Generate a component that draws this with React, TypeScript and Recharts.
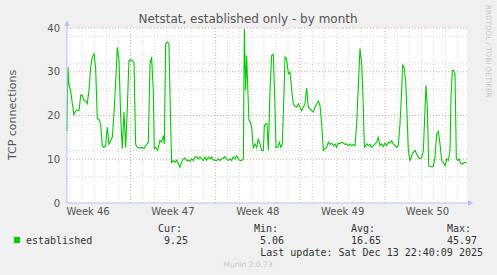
import { LineChart, Line, XAxis, YAxis, CartesianGrid } from "recharts";

// time in days since Mon 10 Nov 2025 (start of week 46)
const times = [
  1.76, 1.84, 1.92, 2.06, 2.2, 2.33, 2.47, 2.61, 2.75, 2.89, 3.02, 3.16, 3.3, 3.43, 3.57, 3.71, 3.85, 3.99,
  4.12, 4.26, 4.4, 4.54, 4.67, 4.81, 4.95, 5.08, 5.22, 5.36, 5.5, 5.64, 5.77, 5.91, 6.05, 6.19, 6.32, 6.46,
  6.6, 6.74, 6.87, 7.01, 7.15, 7.29, 7.42, 7.56, 7.7, 7.84, 7.97, 8.11, 8.25, 8.47, 8.61, 8.74, 8.88, 8.96,
  9.07, 9.24, 9.43, 9.57, 9.71, 9.79, 9.9, 10.04, 10.17, 10.28, 10.39, 10.53, 10.67, 10.81, 10.94, 11.08,
  11.22, 11.36, 11.49, 11.63, 11.77, 11.91, 12.05, 12.18, 12.32, 12.46, 12.59, 12.73, 12.87, 13.01, 13.14,
  13.28, 13.42, 13.56, 13.69, 13.83, 13.97, 14.11, 14.24, 14.38, 14.52, 14.66, 14.79, 14.93, 15.07, 15.21,
  15.34, 15.48, 15.62, 15.76, 15.89, 16.03, 16.17, 16.31, 16.39, 16.5, 16.58, 16.66, 16.77, 16.88, 16.99,
  17.13, 17.27, 17.41, 17.54, 17.68, 17.82, 17.96, 18.04, 18.15, 18.26, 18.37, 18.51, 18.64, 18.78, 18.92,
  19.0, 19.14, 19.28, 19.41, 19.52, 19.64, 19.75, 19.88, 20.02, 20.16, 20.3, 20.43, 20.57, 20.71, 20.85,
  20.98, 21.12, 21.26, 21.39, 21.53, 21.67, 21.81, 21.94, 22.08, 22.22, 22.36, 22.49, 22.63, 22.77, 22.91,
  23.04, 23.18, 23.32, 23.46, 23.59, 23.73, 23.87, 24.01, 24.14, 24.28, 24.42, 24.56, 24.69, 24.83, 24.97,
  25.11, 25.24, 25.38, 25.52, 25.66, 25.79, 25.93, 26.07, 26.21, 26.29, 26.48, 26.62, 26.76, 26.89, 27.03,
  27.17, 27.31, 27.44, 27.58, 27.72, 27.86, 27.99, 28.13, 28.27, 28.41, 28.54, 28.68, 28.82, 28.96, 29.09,
  29.23, 29.37, 29.45, 29.56, 29.7, 29.81, 29.92, 30.06, 30.2, 30.33, 30.47, 30.61, 30.75, 30.88, 31.02,
  31.16, 31.3, 31.38, 31.49, 31.6, 31.71, 31.85, 31.98, 32.12, 32.26, 32.4, 32.53, 32.67, 32.81, 32.95,
  33.08, 33.22, 33.36, 33.44, 33.55, 33.66, 33.77, 33.88, 34.0, 34.11, 34.22, 34.33, 34.47, 34.61, 34.74,
];

const established = [
  16.5, 31, 27, 25.7, 22.7, 20.2, 21, 21.3, 21.1, 24.6, 24.6, 23.4, 23.3, 22.7, 25.7, 31, 33.4, 34.1,
  31, 19.2, 19.2, 18, 13.1, 12.7, 13.1, 17.3, 13.5, 14.3, 15, 20.8, 27.3, 35.6, 32.6, 19.6, 12.4, 20.8,
  12.7, 21.9, 32.6, 32.7, 32.6, 32.2, 13.5, 12.7, 12.6, 12.6, 12.7, 12.4, 13.1, 13.9, 31.8, 33.4, 25.7, 12.4,
  12.7, 12, 14.3, 13.9, 15.4, 13.5, 36.4, 36.8, 36.4, 21.9, 9.3, 9.7, 9.3, 9.8, 9.1, 8.2,
  9.3, 10.1, 10.3, 9.7, 9.8, 9.5, 10.1, 9.7, 10.5, 10.6, 10.1, 10.5, 10.1, 9.7, 10.5,
  9.8, 10.5, 10.1, 10.5, 9.8, 9.8, 9.7, 10.1, 9.7, 10.1, 10.3, 10.6, 10.1, 9.7, 10.1,
  9.7, 10.5, 10.1, 10.8, 10.1, 9.7, 9.7, 10.1, 39.8, 25.7, 33.7, 27.3, 18.9, 18.5, 17.3,
  12.7, 13.5, 12.7, 14.7, 13.5, 12, 12, 17.7, 18.1, 18.1, 12, 25.7, 33.7, 34, 21.9,
  12.7, 12.8, 13.9, 12.7, 13.5, 23.4, 33.4, 33, 29.5, 29.9, 25.7, 22.7, 22.1, 21.9, 22.7,
  21.9, 21.1, 21.9, 22.7, 26.3, 21.9, 21.5, 21.1, 20.8, 21.9, 22.7, 23.3, 22.3, 18.1, 12,
  12.4, 12.7, 13.9, 13.4, 13.7, 13.1, 13.5, 12.7, 13.7, 13.5, 13.9, 13.7, 13.4, 13.5, 13.1,
  13.5, 13.1, 13.4, 13.1, 18.1, 26.5, 35.3, 31.8, 21.9, 12.7, 13.5, 13.1, 13.4, 12.7, 13.1,
  13.5, 13.9, 15, 13.1, 13.5, 12.9, 13.7, 13.1, 13.9, 13.7, 14.2, 13.5, 13.1, 12.7, 13.1,
  18.1, 25.7, 31.5, 31.1, 28, 20.4, 12, 9.7, 10.8, 11.6, 12, 11.2, 10.5, 10.1, 10.3,
  12, 21.9, 26.9, 21.9, 8.5, 8.3, 8.3, 8.3, 10.5, 15.8, 16.4, 13.5, 9.7, 9.3, 8.5,
  10.1, 9.7, 12, 24.2, 30.3, 30.3, 29.5, 10.1, 9.7, 10.1, 9.1, 8.9, 9.1, 9.3, 9.1,
];

const weekLabels = ["Week 46", "Week 47", "Week 48", "Week 49", "Week 50"];
const weekMids = [3.5, 10.5, 17.5, 24.5, 31.5];
const weekStarts = [7, 14, 21, 28];
const dayLines = [2, 3, 4, 5, 6, 8, 9, 10, 11, 12, 13, 15, 16, 17, 18, 19, 20, 22, 23, 24, 25, 26, 27, 29, 30, 31, 32, 33, 34];
const yTicks = [0, 10, 20, 30, 40];
const yMajor = [10, 20, 30, 40];
const yMinor = [2, 4, 6, 8, 12, 14, 16, 18, 22, 24, 26, 28, 32, 34, 36, 38];

const statLabels = ["Cur:", "Min:", "Avg:", "Max:"];
const statValues = ["9.25", "5.06", "16.65", "45.97"];

const data = times.map((t, i) => ({ t, v: established[i] }));

const sans = "'DejaVu Sans', sans-serif";
const mono = "'DejaVu Sans Mono', monospace";
const axisBlue = "#b8c0f4";
const xDomain: [number, number] = [1.76, 34.76];

export default function App() {
  const statX = [182, 278, 375, 471];

  return (
    <div style={{ position: "absolute", left: 0, top: 0, width: 497, height: 275, background: "#f0f0f0" }}>
      <LineChart width={497} height={275} data={data} margin={{ top: 28, right: 30, bottom: 52, left: 37 }}>
        <CartesianGrid
          fill="#ffffff"
          stroke="#d4d4d4"
          strokeDasharray="1 2"
          horizontalValues={yMinor}
          verticalValues={dayLines}
        />
        <CartesianGrid stroke="#e8a0a0" strokeDasharray="1 2" horizontalValues={yMajor} verticalValues={weekStarts} />
        {/* little tick marks outside the axes, munin style */}
        <XAxis
          xAxisId="dayTicks"
          type="number"
          dataKey="t"
          domain={xDomain}
          ticks={dayLines}
          interval={0}
          height={0}
          tick={false}
          tickSize={2}
          tickLine={{ stroke: "#c8c8c8" }}
          axisLine={false}
        />
        <XAxis
          xAxisId="weekTicks"
          type="number"
          dataKey="t"
          domain={xDomain}
          ticks={weekStarts}
          interval={0}
          height={0}
          tick={false}
          tickSize={2}
          tickLine={{ stroke: "#e08080" }}
          axisLine={false}
        />
        <XAxis
          type="number"
          dataKey="t"
          domain={xDomain}
          ticks={weekMids}
          tickFormatter={(v: number) => weekLabels[weekMids.indexOf(v)]}
          interval={0}
          height={20}
          tickLine={false}
          tickSize={3}
          tickMargin={2}
          axisLine={{ stroke: axisBlue }}
          tick={{ fill: "#555", fontSize: 10, fontFamily: sans }}
        />
        <YAxis
          domain={[0, 40]}
          ticks={yTicks}
          width={30}
          tickLine={false}
          tickMargin={1}
          axisLine={{ stroke: axisBlue }}
          tick={{ fill: "#555", fontSize: 10, fontFamily: sans }}
        />
        <Line
          type="linear"
          dataKey="v"
          stroke="#00cc00"
          strokeWidth={1.1}
          dot={false}
          isAnimationActive={false}
        />
      </LineChart>

      <svg width={497} height={275} style={{ position: "absolute", left: 0, top: 0, pointerEvents: "none" }}>
        {/* axis arrows */}
        <line x1={67} y1={28} x2={67} y2={24} stroke={axisBlue} />
        <polygon points="67,21 64,26 70,26" fill={axisBlue} />
        <line x1={467} y1={203} x2={469} y2={203} stroke={axisBlue} />
        <polygon points="473,203 468,200 468,206" fill={axisBlue} />

        <text x={248} y={19} textAnchor="middle" dominantBaseline="central" fontFamily={sans} fontSize={12} fill="#555">
          Netstat, established only - by month
        </text>
        <text
          transform="translate(12,115) rotate(-90)"
          textAnchor="middle"
          dominantBaseline="central"
          fontFamily={sans}
          fontSize={11}
          fill="#555"
        >
          TCP connections
        </text>
        <text transform="translate(486,5) rotate(90)" fontFamily={sans} fontSize={7.2} fill="#c8c8c8">
          RRDTOOL / TOBI OETIKER
        </text>

        <rect x={14} y={237} width={6} height={6} fill="#00cc00" />
        <text x={26} y={240} dominantBaseline="central" fontFamily={mono} fontSize={10} fill="#333">
          established
        </text>
        {statLabels.map((s, i) => (
          <text key={s} x={statX[i]} y={228} textAnchor="end" dominantBaseline="central" fontFamily={mono} fontSize={10} fill="#333">
            {s}
          </text>
        ))}
        {statValues.map((s, i) => (
          <text key={s} x={statX[i] + 6} y={240} textAnchor="end" dominantBaseline="central" fontFamily={mono} fontSize={10} fill="#333">
            {s}
          </text>
        ))}
        <text x={483} y={252} textAnchor="end" dominantBaseline="central" fontFamily={mono} fontSize={10} fill="#333">
          Last update: Sat Dec 13 22:40:09 2025
        </text>
        <text x={248} y={264} textAnchor="middle" dominantBaseline="central" fontFamily={sans} fontSize={7.5} fill="#c8c8c8">
          Munin 2.0.73
        </text>
      </svg>
    </div>
  );
}
